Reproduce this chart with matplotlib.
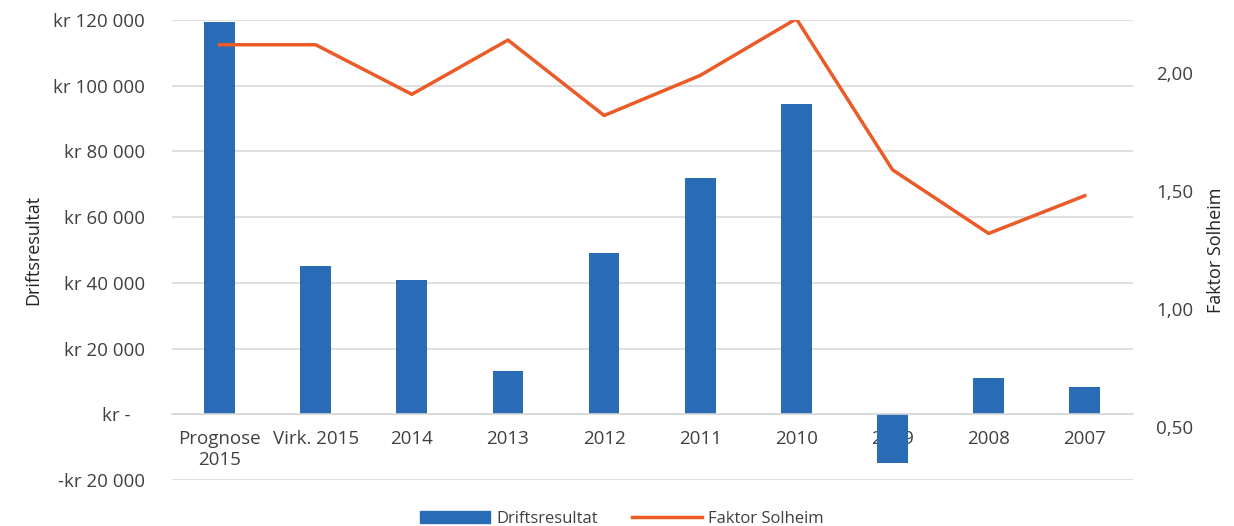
import matplotlib.pyplot as plt
import numpy as np
from matplotlib.ticker import FuncFormatter
from matplotlib.lines import Line2D
from matplotlib.patches import Patch

plt.rcParams['font.family'] = ['Open Sans', 'DejaVu Sans']

categories = ['Prognose\n2015', 'Virk. 2015', '2014', '2013', '2012',
              '2011', '2010', '2009', '2008', '2007']
driftsresultat = [119500, 45000, 40800, 13300, 49200, 71800, 94500, -14800, 11000, 8300]
faktor_solheim = [2.12, 2.12, 1.91, 2.14, 1.82, 1.99, 2.23, 1.59, 1.32, 1.48]

bar_color = '#2A6BB6'
line_color = '#EA5B27'
grid_color = '#D9D9D9'
text_color = '#404040'

fig = plt.figure(figsize=(12.34, 5.26), dpi=100)
ax = fig.add_axes([0.139, 0.0875, 0.779, 0.8745])
x = np.arange(len(categories))

ax.bar(x, driftsresultat, width=0.32, color=bar_color, zorder=2)
ax.set_xlim(-0.5, len(categories) - 0.5)
ax.set_ylim(-20000, 120000)
ax.set_yticks(np.arange(-20000, 120001, 20000))

def kr_fmt(v, pos):
    if v == 0:
        return 'kr -   '
    s = f"{abs(int(v)):,}".replace(',', ' ')
    return ('-kr ' if v < 0 else 'kr ') + s

ax.yaxis.set_major_formatter(FuncFormatter(kr_fmt))
ax.grid(axis='y', color=grid_color, linewidth=1.2, zorder=0)
for s in ['top', 'right', 'left']:
    ax.spines[s].set_visible(False)
ax.spines['bottom'].set_position(('data', 0))
ax.spines['bottom'].set_color(grid_color)
ax.spines['bottom'].set_linewidth(1.2)
ax.set_xticks(x)
ax.set_xticklabels(categories, linespacing=1.25)
ax.tick_params(axis='x', length=0, pad=11, labelsize=13.5, colors=text_color)
ax.tick_params(axis='y', length=0, pad=19, labelsize=13.5, colors=text_color)
ax.set_ylabel('Driftsresultat', fontsize=13, color='#222222', labelpad=8)

ax2 = ax.twinx()
ax2.plot(x, faktor_solheim, color=line_color, linewidth=2.5, zorder=3)
ax2.set_ylim(0.275, 2.225)
ax2.set_yticks([0.5, 1.0, 1.5, 2.0])
ax2.yaxis.set_major_formatter(FuncFormatter(lambda v, p: f"{v:.2f}".replace('.', ',')))
for s in ax2.spines.values():
    s.set_visible(False)
ax2.tick_params(axis='y', length=0, pad=17, labelsize=13.5, colors=text_color)
ax2.set_ylabel('Faktor Solheim', fontsize=13, color='#222222', labelpad=10)

handles = [Patch(color=bar_color), Line2D([0], [0], color=line_color, linewidth=2.5)]
fig.legend(handles, ['Driftsresultat', 'Faktor Solheim'], loc='lower center',
           bbox_to_anchor=(0.504, -0.03), ncol=2, frameon=False, fontsize=12,
           handlelength=4.2, handleheight=0.8, handletextpad=0.4,
           columnspacing=2.0, labelcolor=text_color)

fig.savefig('out.png', dpi=100)
